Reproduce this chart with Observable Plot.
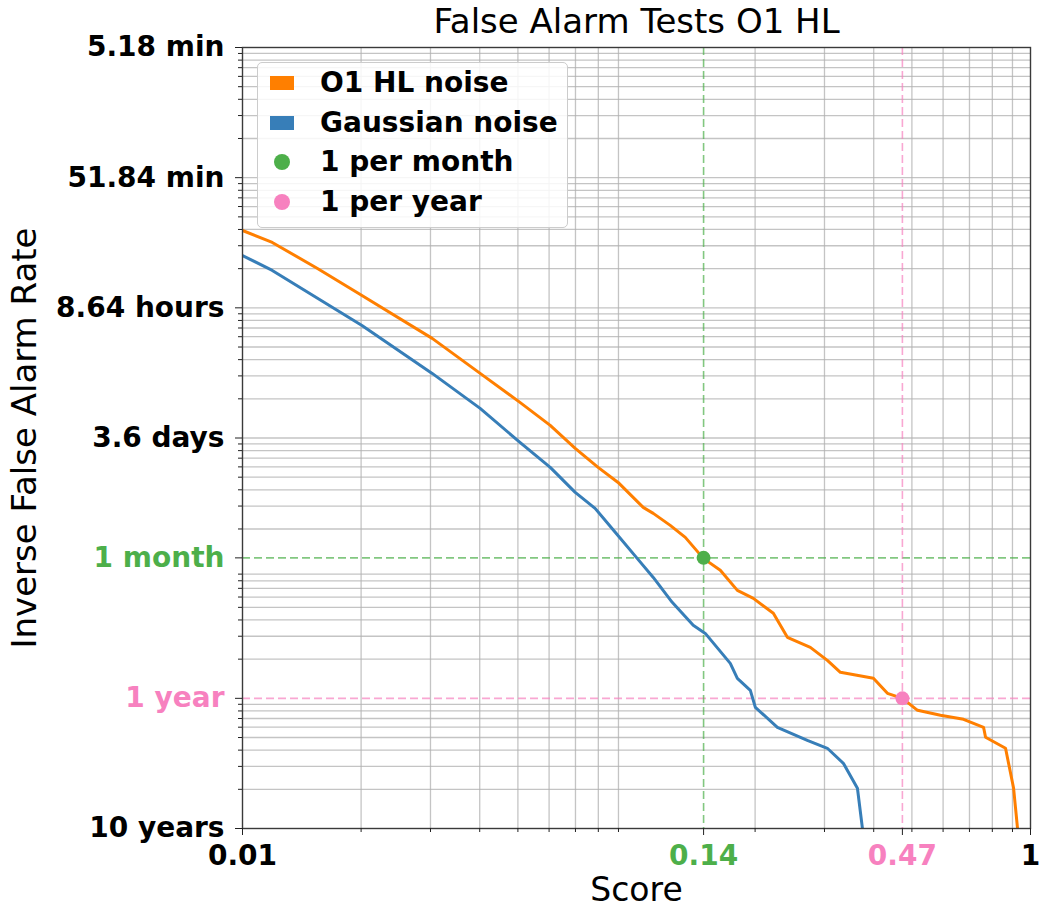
<!DOCTYPE html>
<html>
<head>
<meta charset="utf-8">
<script src="https://cdn.jsdelivr.net/npm/d3@7"></script>
<script src="https://cdn.jsdelivr.net/npm/@observablehq/plot@0.6"></script>
<style>
  html, body { margin: 0; padding: 0; background: #ffffff; }
  body { font-family: "DejaVu Sans", sans-serif; }
  #wrap { position: relative; width: 1043px; height: 910px; }
  .legend {
    position: absolute; left: 257px; top: 62px; width: 311px; height: 166px;
    box-sizing: border-box; border: 1.5px solid #cccccc; border-radius: 5px;
    background: rgba(255,255,255,0.85); font-weight: bold; font-size: 28px; color: #000;
  }
  .legend .row { position: absolute; left: 0; height: 40px; width: 100%; }
  .legend .sw { position: absolute; }
  .legend .lab { position: absolute; left: 62px; top: 0; line-height: 40px; white-space: nowrap; }
</style>
</head>
<body>
<div id="wrap"></div>
<script>
// ---------------- data ----------------
const chartTitle = "False Alarm Tests O1 HL";
const xLabel = "Score";
const yLabel = "Inverse False Alarm Rate";

// O1 HL noise: score vs inverse false alarm rate (days)
const o1Score = [0.0100,0.0119,0.0155,0.0201,0.0303,0.0401,0.0506,0.0604,0.0699,0.0799,0.0898,0.1040,0.1103,0.1218,0.1330,0.1478,0.1632,0.1803,0.1980,0.2225,0.2415,0.2762,0.3051,0.3292,0.3993,0.4334,0.4732,0.5168,0.5909,0.6761,0.7601,0.7690,0.8643,0.9060,0.9270];
const o1Ifar  = [0.0916,0.1133,0.1794,0.289,0.618,1.148,1.918,2.881,4.33,6.05,7.90,12.28,13.66,16.88,20.88,30.27,37.4,53.3,61.4,80.0,122.4,146.1,183.8,227.1,252.8,329.6,360,445,486,522,601,717,871,1768,3600];

// Gaussian noise
const gaussScore = [0.0100,0.0119,0.0201,0.0303,0.0401,0.0506,0.0604,0.0699,0.0785,0.0883,0.1004,0.1103,0.1232,0.1393,0.1495,0.1730,0.1803,0.1945,0.2003,0.2278,0.2714,0.3051,0.3350,0.3637,0.3745];
const gaussIfar  = [0.1426,0.1858,0.4914,1.148,2.133,3.89,6.05,9.42,12.5,19.1,30.27,42.4,65.9,99.0,114.1,193.9,252.8,312.6,422,601,757,871,1136,1768,3600];

// thresholds
const thresholdNames = ["1 per month", "1 per year"];
const thresholdScore = [0.148, 0.473];
const thresholdIfar  = [30, 360];
const thresholdColors = ["#4daf4a", "#f781bf"];

// axis ticks
const yTickValues = [0.0036, 0.036, 0.36, 3.6, 30, 360, 3600];
const yTickLabels = ["5.18 min", "51.84 min", "8.64 hours", "3.6 days", "1 month", "1 year", "10 years"];
const yTickColors = ["#000", "#000", "#000", "#000", "#4daf4a", "#f781bf", "#000"];
const yGridMajor  = [0.036, 0.36, 3.6];
const yDecades    = [0.036, 0.36, 3.6, 36, 360, 3600];   // rate decades (minor ticks above each)
const xTickValues = [0.01, 0.148, 0.473, 1];
const xTickLabels = ["0.01", "0.14", "0.47", "1"];
const xTickColors = ["#000", "#4daf4a", "#f781bf", "#000"];
const xDecades    = [0.01, 0.1];
const minorMultipliers = [2, 3, 4, 5, 6, 7, 8, 9];

const seriesNames  = ["O1 HL noise", "Gaussian noise"];
const seriesColors = ["#ff7f00", "#377eb8"];

// ---------------- build tables ----------------
const o1 = o1Score.map((s, i) => ({score: s, ifar: o1Ifar[i]}));
const gauss = gaussScore.map((s, i) => ({score: s, ifar: gaussIfar[i]}));
const thresholds = thresholdNames.map((n, i) => ({name: n, score: thresholdScore[i], ifar: thresholdIfar[i], color: thresholdColors[i]}));
const yMinor = yDecades.flatMap(d => minorMultipliers.map(k => d / k));
const xMinor = xDecades.flatMap(d => minorMultipliers.map(k => d * k));
const yTicks = yTickValues.map((v, i) => ({v, label: yTickLabels[i], color: yTickColors[i]}));
const xTicks = xTickValues.map((v, i) => ({v, label: xTickLabels[i], color: xTickColors[i]}));

const gridStyle = {stroke: "#b0b0b0", strokeOpacity: 0.75, strokeWidth: 1.3};

const chart = Plot.plot({
  width: 1043, height: 910,
  marginLeft: 242, marginRight: 13, marginTop: 47, marginBottom: 82,
  style: {fontFamily: "DejaVu Sans, sans-serif", background: "#ffffff", overflow: "visible"},
  x: {type: "log", domain: [0.01, 1], axis: null},
  y: {type: "log", domain: [0.0036, 3600], reverse: true, axis: null},
  color: {type: "identity"},
  marks: [
    Plot.ruleY(yMinor.concat(yGridMajor), gridStyle),
    Plot.ruleX(xMinor, gridStyle),
    Plot.ruleY(thresholds, {y: "ifar", stroke: "color", strokeDasharray: "8,4", strokeWidth: 1.6, strokeOpacity: 0.7}),
    Plot.ruleX(thresholds, {x: "score", stroke: "color", strokeDasharray: "8,4", strokeWidth: 1.6, strokeOpacity: 0.7}),
    Plot.line(gauss, {x: "score", y: "ifar", stroke: seriesColors[1], strokeWidth: 3, clip: true}),
    Plot.line(o1, {x: "score", y: "ifar", stroke: seriesColors[0], strokeWidth: 3, clip: true}),
    Plot.dot(thresholds, {x: "score", y: "ifar", r: 7, fill: "color", stroke: "none"}),
    Plot.frame({stroke: "#3a3a3a", strokeWidth: 1.4}),
    Plot.axisY({ticks: yMinor, tickSize: 4, tickFormat: () => "", label: null, stroke: "#222"}),
    Plot.axisY({ticks: yTickValues, tickSize: 7, tickFormat: () => "", label: null, stroke: "#222"}),
    Plot.axisX({ticks: xMinor, tickSize: 4, tickFormat: () => "", label: null, stroke: "#222"}),
    Plot.axisX({ticks: xTickValues, tickSize: 7, tickFormat: () => "", label: null, stroke: "#222"}),
    Plot.text(yTicks, {y: "v", text: "label", fill: "color", frameAnchor: "left", textAnchor: "end", lineAnchor: "middle", dx: -18, fontWeight: "bold", fontSize: 28}),
    Plot.text(xTicks, {x: "v", text: "label", fill: "color", frameAnchor: "bottom", textAnchor: "middle", lineAnchor: "middle", dy: 28, fontWeight: "bold", fontSize: 28}),
    Plot.text([chartTitle], {text: d => d, frameAnchor: "top", textAnchor: "middle", lineAnchor: "middle", dy: -25, fontSize: 34, fill: "#000"}),
    Plot.text([xLabel], {text: d => d, frameAnchor: "bottom", textAnchor: "middle", lineAnchor: "middle", dy: 62, fontSize: 33, fill: "#000"}),
    Plot.text([yLabel], {text: d => d, frameAnchor: "left", textAnchor: "middle", lineAnchor: "middle", rotate: -90, dx: -217, fontSize: 34, fill: "#000"})
  ]
});

const wrap = document.getElementById("wrap");
wrap.appendChild(chart);

// legend (built from the series/threshold arrays)
const legend = document.createElement("div");
legend.className = "legend";
const entries = seriesNames.map((n, i) => ({name: n, color: seriesColors[i], shape: "rect"}))
  .concat(thresholdNames.map((n, i) => ({name: n, color: thresholdColors[i], shape: "circle"})));
entries.forEach((e, i) => {
  const row = document.createElement("div");
  row.className = "row";
  row.style.top = (0 + i * 39.5) + "px";
  const sw = document.createElement("div");
  sw.className = "sw";
  if (e.shape === "rect") {
    Object.assign(sw.style, {left: "12px", top: "13px", width: "24px", height: "14px", background: e.color});
  } else {
    Object.assign(sw.style, {left: "16px", top: "12px", width: "16px", height: "16px", borderRadius: "50%", background: e.color});
  }
  const lab = document.createElement("div");
  lab.className = "lab";
  lab.textContent = e.name;
  row.appendChild(sw);
  row.appendChild(lab);
  legend.appendChild(row);
});
wrap.appendChild(legend);
</script>
</body>
</html>
